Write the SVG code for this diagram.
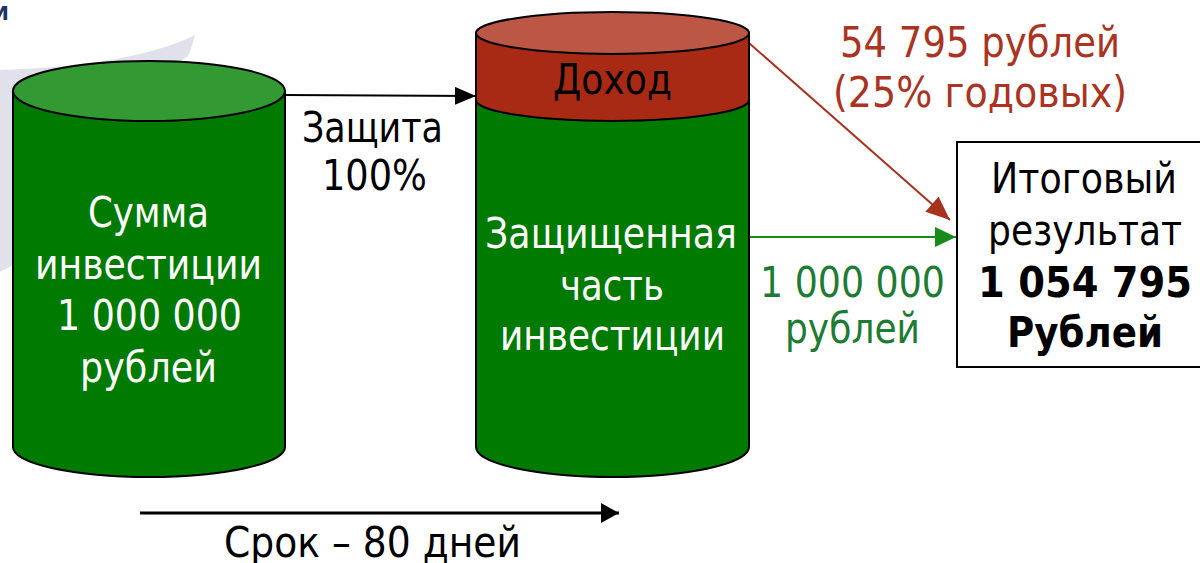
<svg xmlns="http://www.w3.org/2000/svg" width="1200" height="563" viewBox="0 0 1200 563">
<defs>
<style>
.t{font-family:"DejaVu Sans","Liberation Sans",sans-serif;font-size:42px;text-anchor:middle}
.w{fill:#ffffff}
.k{fill:#000000}
.r{fill:#AA3322}
.g{fill:#1E7B33}
.b{font-weight:bold}
.body{fill:#007A00;stroke:#000;stroke-width:2}
.gtop{fill:#339933;stroke:#000;stroke-width:2}
.rbody{fill:#A82A15;stroke:#000;stroke-width:2}
.rtop{fill:#BC5746;stroke:#000;stroke-width:2}
</style>
<marker id="ak" viewBox="0 0 21 18" refX="21" refY="9" markerWidth="21" markerHeight="18" markerUnits="userSpaceOnUse" orient="auto"><path d="M0,0 L21,9 L0,18 Z" fill="#000"/></marker>
<marker id="ag" viewBox="0 0 21 20" refX="21" refY="10" markerWidth="21" markerHeight="20" markerUnits="userSpaceOnUse" orient="auto"><path d="M0,0 L21,10 L0,20 Z" fill="#178A17"/></marker>
<marker id="ar" viewBox="0 0 24 20" refX="24" refY="10" markerWidth="24" markerHeight="20" markerUnits="userSpaceOnUse" orient="auto"><path d="M0,0 L24,10 L0,20 Z" fill="#A83220"/></marker>
<marker id="ab" viewBox="0 0 18 20" refX="18" refY="10" markerWidth="18" markerHeight="20" markerUnits="userSpaceOnUse" orient="auto"><path d="M0,0 L18,10 L0,20 Z" fill="#000"/></marker>
</defs>
<rect width="1200" height="563" fill="#ffffff"/>
<path d="M0,70 C70,68 150,58 195,35 C193,42 191,50 188,56 L177,63 L120,240 L13,265 L0,272 Z" fill="#E1E1EC"/>
<text x="-11" y="20" font-family="DejaVu Sans, sans-serif" font-size="20" font-weight="bold" fill="#1F3264">М</text>
<g id="connectors">
<line x1="285" y1="95" x2="476" y2="96" stroke="#000" stroke-width="2" marker-end="url(#ak)"/>
<line x1="749" y1="237" x2="956" y2="237" stroke="#178A17" stroke-width="2" marker-end="url(#ag)"/>
<line x1="749" y1="43" x2="950" y2="220" stroke="#A83220" stroke-width="2" marker-end="url(#ar)"/>
<line x1="140" y1="513" x2="619" y2="513" stroke="#000" stroke-width="3" marker-end="url(#ab)"/>
</g>
<g id="invest">
<path class="body" d="M13,91 L13,447 A136,30 0 0 0 285,447 L285,91 Z"/>
<ellipse class="gtop" cx="149" cy="91" rx="136" ry="30"/>
<text class="t w" x="148.5" y="227" textLength="121" lengthAdjust="spacingAndGlyphs">Сумма</text>
<text class="t w" x="148.5" y="279" textLength="227" lengthAdjust="spacingAndGlyphs">инвестиции</text>
<text class="t w" x="149.5" y="330" textLength="185" lengthAdjust="spacingAndGlyphs">1 000 000</text>
<text class="t w" x="148.5" y="382" textLength="137" lengthAdjust="spacingAndGlyphs">рублей</text>
</g>
<g id="protect-label">
<text class="t k" x="372.5" y="142" textLength="141" lengthAdjust="spacingAndGlyphs">Защита</text>
<text class="t k" x="374.5" y="190" textLength="105" lengthAdjust="spacingAndGlyphs">100%</text>
</g>
<g id="result-cylinder">
<path class="body" d="M476,100 L476,447 A136.5,30 0 0 0 749,447 L749,100 Z"/>
<path class="rbody" d="M476,33 L476,100 A136.5,21 0 0 0 749,100 L749,33 Z"/>
<ellipse class="rtop" cx="612.5" cy="33" rx="136.5" ry="21"/>
<text class="t k" x="612.5" y="94" textLength="119" lengthAdjust="spacingAndGlyphs">Доход</text>
<text class="t w" x="611" y="248" textLength="252" lengthAdjust="spacingAndGlyphs">Защищенная</text>
<text class="t w" x="612" y="300" textLength="104" lengthAdjust="spacingAndGlyphs">часть</text>
<text class="t w" x="612.5" y="350" textLength="225" lengthAdjust="spacingAndGlyphs">инвестиции</text>
</g>
<g id="income-label">
<text class="t r" x="980" y="57" textLength="280" lengthAdjust="spacingAndGlyphs">54 795 рублей</text>
<text class="t r" x="980" y="107" textLength="294" lengthAdjust="spacingAndGlyphs">(25% годовых)</text>
</g>
<g id="protected-label">
<text class="t g" x="852.5" y="297" textLength="185" lengthAdjust="spacingAndGlyphs">1 000 000</text>
<text class="t g" x="852.5" y="343" textLength="135" lengthAdjust="spacingAndGlyphs">рублей</text>
</g>
<g id="total">
<rect x="957" y="142" width="260" height="225" fill="#ffffff" stroke="#000" stroke-width="2"/>
<text class="t k" x="1084" y="193" textLength="186" lengthAdjust="spacingAndGlyphs">Итоговый</text>
<text class="t k" x="1085" y="245" textLength="194" lengthAdjust="spacingAndGlyphs">результат</text>
<text class="t k b" x="1085" y="297" textLength="214" lengthAdjust="spacingAndGlyphs">1 054 795</text>
<text class="t k b" x="1085" y="347" textLength="156" lengthAdjust="spacingAndGlyphs">Рублей</text>
</g>
<g id="term-label">
<text class="t k" x="372.5" y="557" textLength="297" lengthAdjust="spacingAndGlyphs">Срок – 80 дней</text>
</g>
</svg>
